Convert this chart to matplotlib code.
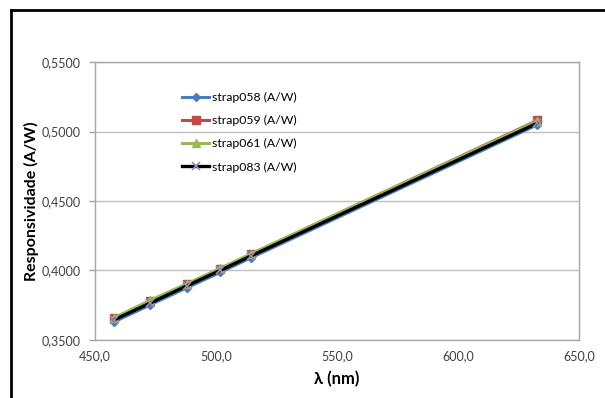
import matplotlib
matplotlib.use("Agg")
import matplotlib.pyplot as plt
from matplotlib.lines import Line2D
from matplotlib.ticker import FuncFormatter, MultipleLocator

plt.rcParams['font.family'] = ['Lato', 'DejaVu Sans']

# wavelengths (nm)
wavelength = [457.9, 472.7, 488.0, 501.7, 514.5, 632.8]

# responsivity per detector (A/W)
strap058 = [0.3630, 0.3752, 0.3876, 0.3986, 0.4092, 0.5048]
strap059 = [0.3655, 0.3778, 0.3900, 0.4012, 0.4118, 0.5080]
strap061 = [0.3660, 0.3785, 0.3905, 0.4015, 0.4120, 0.5075]
strap083 = [0.3645, 0.3765, 0.3890, 0.4000, 0.4105, 0.5060]

labels = ['strap058 (A/W)', 'strap059 (A/W)', 'strap061 (A/W)', 'strap083 (A/W)']

fig = plt.figure(figsize=(6.05, 3.98), dpi=100)
ax = fig.add_axes([95 / 605, 58 / 398, 484 / 605, 278 / 398])

ax.plot(wavelength, strap058, '-D', color='#4A7EBB', lw=2.2, ms=4, label=labels[0], zorder=3)
ax.plot(wavelength, strap059, '-s', color='#BE4B48', lw=2.2, ms=6, label=labels[1], zorder=4)
ax.plot(wavelength, strap061, '-^', color='#98B954', lw=2.2, ms=6, label=labels[2], zorder=5)
ax.plot(wavelength, strap083, '-x', color='black', lw=2.4, ms=6, mec='#9B8DC4', mew=1.2,
        label=labels[3], zorder=6)

ax.set_xlim(450, 650)
ax.set_ylim(0.35, 0.55)
ax.xaxis.set_major_locator(MultipleLocator(50))
ax.yaxis.set_major_locator(MultipleLocator(0.05))
ax.xaxis.set_major_formatter(FuncFormatter(lambda v, p: f"{v:.1f}".replace('.', ',')))
ax.yaxis.set_major_formatter(FuncFormatter(lambda v, p: f"{v:.4f}".replace('.', ',')))
ax.grid(axis='y', color='#BFBFBF', lw=1)
ax.set_axisbelow(True)
for s in ax.spines.values():
    s.set_color('#A6A6A6')
    s.set_linewidth(1)
ax.tick_params(axis='x', length=0, labelsize=9, colors='#404040', pad=7)
ax.tick_params(axis='y', length=4, width=1, color='#A6A6A6', labelsize=9,
               labelcolor='#404040', pad=6)

ax.set_xlabel('λ (nm)', fontsize=12, fontweight='bold', labelpad=7)
ax.set_ylabel('Responsividade (A/W)', fontsize=11.5, fontweight='bold', labelpad=2)

ax.legend(loc='upper left', bbox_to_anchor=(0.168, 0.915), frameon=False, fontsize=8.8,
          handlelength=2.2, handletextpad=0.2, labelspacing=1.0, borderpad=0)

# chart outer border (only top and left visible)
fig.add_artist(Line2D([11 / 605, 11 / 605], [0, 388 / 398], color='black', lw=2))
fig.add_artist(Line2D([11 / 605, 1], [388 / 398, 388 / 398], color='black', lw=2))

fig.savefig('out.png', dpi=100)
